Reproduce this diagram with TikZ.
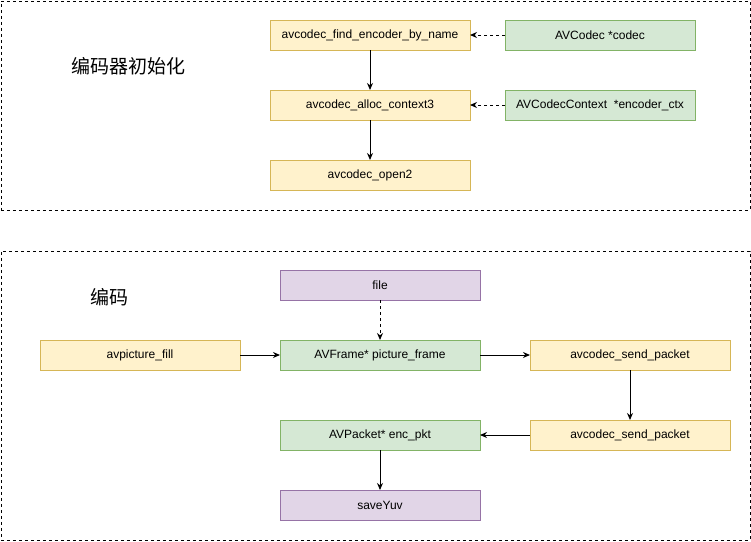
\documentclass[tikz,border=0pt]{standalone}
\usepackage{fontspec}
\setmainfont{Liberation Sans}
\newfontfamily\cjkfont{Noto Sans CJK SC}
\usepackage{tikz}
\usetikzlibrary{arrows.meta,positioning}

\definecolor{yellowfill}{HTML}{FFF2CC}
\definecolor{yellowline}{HTML}{D6B656}
\definecolor{greenfill}{HTML}{D5E8D4}
\definecolor{greenline}{HTML}{82B366}
\definecolor{purplefill}{HTML}{E1D5E7}
\definecolor{purpleline}{HTML}{9673A6}

\begin{document}
\begin{tikzpicture}[
    x=1pt, y=-1pt,
    node distance=40pt,
    func/.style={rectangle, draw=yellowline, fill=yellowfill, line width=1pt, minimum width=200pt, minimum height=30pt, inner sep=0pt, outer sep=0pt, font=\fontsize{12}{14}\selectfont},
    data/.style={rectangle, draw=greenline, fill=greenfill, line width=1pt, minimum width=200pt, minimum height=30pt, inner sep=0pt, outer sep=0pt, font=\fontsize{12}{14}\selectfont},
    io/.style={rectangle, draw=purpleline, fill=purplefill, line width=1pt, minimum width=200pt, minimum height=30pt, inner sep=0pt, outer sep=0pt, font=\fontsize{12}{14}\selectfont},
    group/.style={rectangle, draw, dash pattern=on 3pt off 3pt, line width=0.8pt, inner sep=0pt, minimum width=749pt, anchor=north west},
    title/.style={font=\cjkfont\fontsize{19}{22}\selectfont},
    arrow/.style={-{Stealth[length=7pt,width=6pt]}, line width=1pt},
    link/.style={arrow, dash pattern=on 3pt off 3pt}
]
\useasboundingbox (0,0) rectangle (751,541);

% Groups
\node[group, minimum height=209pt] (initgroup) at (0.5,0.5) {};
\node[group, minimum height=289pt] (encgroup) at (0.5,250.5) {};
\node[title] (inittitle) at (128,66) {编码器初始化};
\node[title] (enctitle) at (109,297) {编码};

% Encoder init
\node[func] (findenc) at (370,35) {avcodec\_find\_encoder\_by\_name};
\node[func, below=of findenc] (alloc) {avcodec\_alloc\_context3};
\node[func, below=of alloc] (open) {avcodec\_open2};
\node[data, minimum width=190pt, right=35pt of findenc] (codec) {AVCodec *codec};
\node[data, minimum width=190pt, right=35pt of alloc] (encctx) {AVCodecContext\ \ *encoder\_ctx};

\draw[arrow] (findenc) -- (alloc);
\draw[arrow] (alloc) -- (open);
\draw[link] (codec) -- (findenc);
\draw[link] (encctx) -- (alloc);

% Encoding
\node[io] (file) at (380,285) {file};
\node[data, below=of file] (frame) {AVFrame* picture\_frame};
\node[func, left=of frame] (fill) {avpicture\_fill};
\node[func, right=50pt of frame] (sendone) {avcodec\_send\_packet};
\node[func, below=50pt of sendone] (sendtwo) {avcodec\_send\_packet};
\node[data, left=50pt of sendtwo] (packet) {AVPacket* enc\_pkt};
\node[io, below=of packet] (save) {saveYuv};

\draw[link] (file) -- (frame);
\draw[arrow] (fill) -- (frame);
\draw[arrow] (frame) -- (sendone);
\draw[arrow] (sendone) -- (sendtwo);
\draw[arrow] (sendtwo) -- (packet);
\draw[arrow] (packet) -- (save);

\end{tikzpicture}
\end{document}
